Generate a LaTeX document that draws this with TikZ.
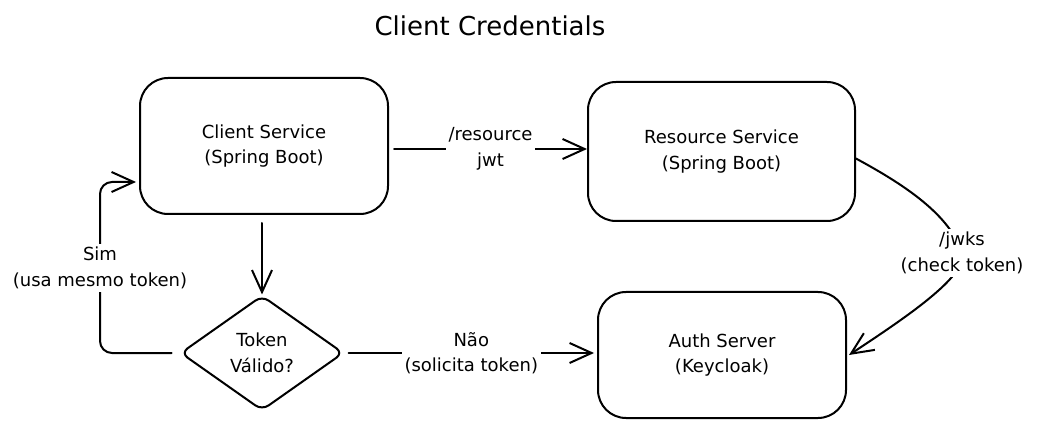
\documentclass[tikz,border=0pt]{standalone}
\usepackage{fontspec}
\setmainfont{DejaVu Sans}
\usetikzlibrary{arrows.meta,shapes.geometric}
\begin{document}
\begin{tikzpicture}[x=1pt,y=-1pt,
  txt/.style={align=center, font=\fontsize{18}{25.5}\selectfont},
  box/.style={txt, draw, line width=2pt, rounded corners=28pt, inner sep=0pt},
  dia/.style={txt, diamond, draw, line width=2pt, rounded corners=8pt, inner sep=0pt,
              minimum width=163pt, minimum height=115pt},
  lab/.style={txt, fill=white, inner sep=3pt},
  arr/.style={line width=2pt, line cap=round, line join=round,
              -{Straight Barb[length=22pt,width=20pt,line width=2pt]}}
]
\useasboundingbox (0,0) rectangle (1046,427);

\node[font=\fontsize{26}{30}\selectfont] (title) at (490,26) {Client Credentials};

\node[box, minimum width=248pt, minimum height=136pt] (cs) at (264,146) {Client Service\\(Spring Boot)};
\node[box, minimum width=267pt, minimum height=139pt] (rs) at (721.5,151.5) {Resource Service\\(Spring Boot)};
\node[box, minimum width=248pt, minimum height=126pt] (as) at (722,355) {Auth Server\\(Keycloak)};
\node[dia] (dec) at (262,353) {Token\\Válido?};

% Client -> Resource
\draw[arr] ([xshift=5pt,yshift=-3pt]cs.east) -- ([yshift=-3pt]cs.east -| rs.west)
  node[lab, midway] (lres) {/resource\\jwt};

% Client -> decision
\draw[arr] ([yshift=-8pt]cs.south -| dec.north) -- (dec.north);

% decision -> Auth (Não)
\draw[arr] ([xshift=4pt]dec.east) -- ([xshift=-3pt]dec.east -| as.west)
  node[lab, midway] (lnao) {Não\\(solicita token)};

% decision -> Client (Sim)
\coordinate (sc) at (100,182);
\draw[arr, rounded corners=12pt, shorten >=3pt] ([xshift=-8pt]dec.west) -| (sc) -- (sc -| cs.west);
\node[lab] (lsim) at (100,268) {Sim\\(usa mesmo token)};

% Resource -> Auth (jwks)
\coordinate (jm) at (962,253);
\draw[arr] (rs.-3) .. controls (905,185) and (950,215) .. (jm)
  .. controls (968,276) and (905,318) .. ([xshift=2pt]as.east);
\node[lab] (ljwks) at (jm) {/jwks\\(check token)};
\end{tikzpicture}
\end{document}
